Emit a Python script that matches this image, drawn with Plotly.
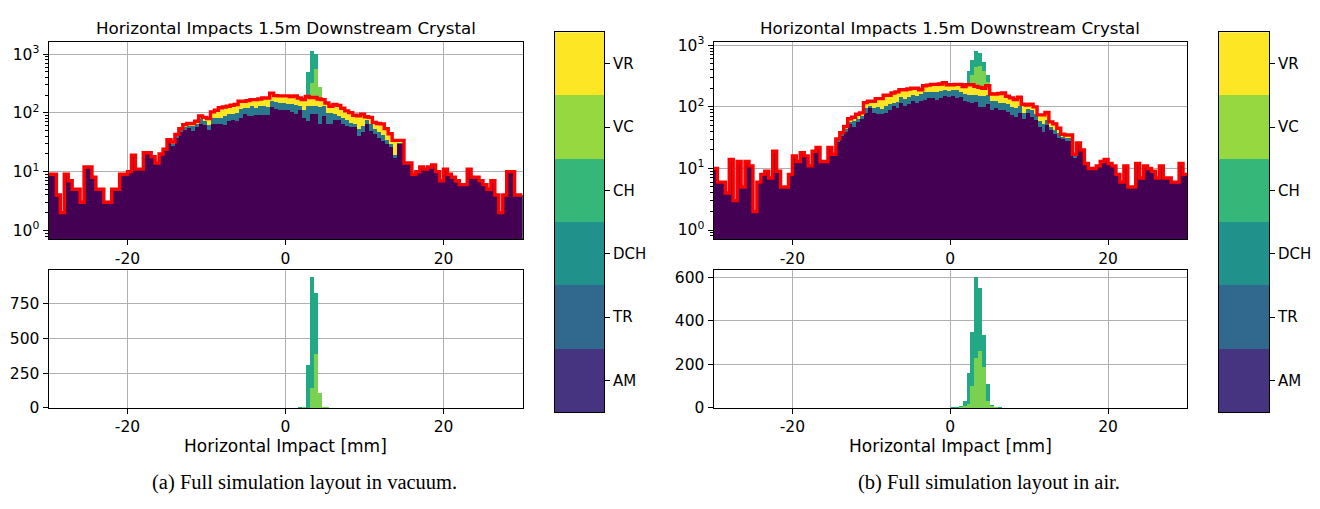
import plotly.graph_objects as go
import numpy as np

# ---------------- data ----------------
bin_edges = [-30 + 0.5 * i for i in range(121)]
categories = ["AM", "TR", "DCH", "CH", "VC", "VR"]

# (a) vacuum
left_am = [9, 9, 4, 2, 9, 7, 5, 5, 3, 12, 12, 8, 5, 5, 3, 3, 5, 5, 9, 9, 10, 19, 11, 11, 21, 21, 18, 14, 20, 24,
           33, 28, 38, 48, 52, 55, 50, 58, 65, 62, 52, 66, 66, 66, 63, 72, 76, 72, 83, 95,
           89, 89, 91, 91, 91, 91, 126, 115, 111, 111, 111, 105, 98, 111, 83, 74, 95, 95, 66, 89,
           66, 66, 76, 76, 66, 61, 57, 57, 40, 47, 65, 50, 44, 38, 34, 30, 26, 17, 30, 30,
           14, 14, 9, 10, 12, 11, 12, 13, 10, 7, 11, 9, 8, 7, 6, 6, 11, 8, 8, 7, 6, 5, 7, 4, 2, 4, 10, 10, 4, 4]
left_dch = [0] * 30 + [1, 2, 2, 3, 6, 6, 10, 8, 13, 12, 10, 15, 15, 17, 26, 23, 19, 29, 32, 25,
                       31, 41, 29, 39, 39, 35, 32, 40, 36, 36, 31, 37, 41, 19, 28, 59, 38, 38, 60, 41,
                       35, 35, 19, 13, 17, 15, 12, 9, 14, 14, 11, 15, 10, 9, 8, 5, 4, 2, 1, 1] + [0] * 30
left_vr = [0] * 30 + [1, 2, 3, 3, 5, 5, 6, 6, 11, 10, 18, 23, 30, 39, 37, 35, 40, 38, 43, 38,
                      42, 38, 48, 42, 49, 53, 59, 42, 48, 48, 53, 48, 56, 49, 57, 57, 50, 50, 46, 38,
                      46, 29, 44, 45, 37, 32, 32, 25, 35, 34, 10, 19, 15, 19, 23, 19, 14, 15, 3, 3] + [0] * 30
left_vc = [0] * 64 + [2, 0, 145, 390, 110, 8, 3] + [0] * 49
left_ch = [0] * 63 + [3, 8, 310, 795, 440, 0, 3] + [0] * 50

# (b) air
right_am = [10, 6, 6, 4, 14, 3, 13, 5, 13, 11, 2, 6, 8, 9, 7, 19, 9, 5, 5, 8, 16, 13, 18, 16, 11, 19, 22, 13, 13, 22, 17,
            27, 34, 40, 53, 47, 57, 64, 81, 95,
            80, 76, 78, 80, 90, 103, 95, 117, 104, 110,
            123, 118, 127, 132, 138, 140, 132, 140, 149, 145,
            149, 140, 145, 123, 120, 117, 120, 100, 100, 113,
            88, 95, 88, 88, 84, 75, 68, 80, 64, 81,
            70, 62, 48, 40, 52, 42, 36, 32, 30, 28,
            28, 15, 26, 20,
            12, 10, 10, 11, 13, 14, 12, 11, 8, 6, 11, 5, 5, 12, 7, 11, 10, 9, 7, 11, 7, 7, 6, 6, 12, 8]
right_dch = [0] * 31 + [2, 2, 4, 4, 12, 7, 8, 14, 9,
                        18, 24, 14, 25, 20, 15, 27, 26, 31, 35,
                        36, 34, 35, 43, 40, 38, 46, 45, 41, 40,
                        41, 48, 33, 39, 39, 42, 39, 49, 49, 46,
                        35, 30, 29, 29, 29, 25, 27, 25, 17, 11,
                        18, 16, 12, 13, 10, 6, 7, 6, 3, 3, 3, 1] + [0] * 28
right_vr = [0] * 31 + [1, 2, 4, 7, 9, 12, 8, 22, 19,
                       25, 36, 44, 49, 44, 50, 53, 47, 55, 50,
                       41, 48, 28, 45, 47, 54, 54, 50, 57, 43,
                       38, 44, 54, 52, 69, 69, 56, 58, 51, 61,
                       39, 37, 48, 51, 36, 40, 37, 38, 29, 15,
                       22, 22, 14, 21, 19, 9, 10, 7, 3, 4, 4, 1] + [0] * 28
right_vc = [0] * 62 + [2, 10, 20, 100, 230, 265, 190, 32, 12, 3] + [0] * 48
right_ch = [0] * 59 + [1, 2, 3, 8, 25, 140, 250, 375, 290, 145, 78, 3, 2, 2, 1, 1] + [0] * 45

# ---------------- style ----------------
hist_colors = {"AM": "#440154", "TR": "#414487", "DCH": "#2a788e", "CH": "#22a884", "VC": "#7ad151", "VR": "#fde725"}
cbar_colors = ["#463480", "#31688e", "#21918c", "#35b779", "#95d840", "#fde725"]
FONT = "DejaVu Sans"
W, H = 1320, 509
GRID = "#b0b0b0"

def px(x):
    return x / W

def py(y):
    return 1 - y / H

edges = np.array(bin_edges)
centers = (edges[:-1] + edges[1:]) / 2
widths = edges[1:] - edges[:-1]

fig = go.Figure()

def add_panel(am, dch, vr, vc, ch, xa_top, ya_top, xa_bot, ya_bot):
    am = np.array(am, float); dch = np.array(dch, float); vr = np.array(vr, float)
    vc = np.array(vc, float); ch = np.array(ch, float)
    c1 = am
    c2 = c1 + dch
    c3 = c2 + vr
    c4 = c3 + vc
    c5 = c4 + ch
    for vals, key in [(c5, "CH"), (c4, "VC"), (c3, "VR"), (c2, "DCH"), (c1, "AM")]:
        fig.add_trace(go.Bar(x=centers, y=vals, width=widths, marker_color=hist_colors[key],
                             marker_line_width=0, xaxis=xa_top, yaxis=ya_top, showlegend=False))
    fig.add_trace(go.Scatter(x=list(edges), y=list(c3) + [c3[-1]], mode="lines", line_shape="hv",
                             line=dict(color="#ff0000", width=3.4), xaxis=xa_top, yaxis=ya_top,
                             showlegend=False))
    fig.add_trace(go.Bar(x=centers, y=vc + ch, width=widths, marker_color=hist_colors["CH"],
                         marker_line_width=0, xaxis=xa_bot, yaxis=ya_bot, showlegend=False))
    fig.add_trace(go.Bar(x=centers, y=vc, width=widths, marker_color=hist_colors["VC"],
                         marker_line_width=0, xaxis=xa_bot, yaxis=ya_bot, showlegend=False))

add_panel(left_am, left_dch, left_vr, left_vc, left_ch, "x", "y", "x2", "y2")
add_panel(right_am, right_dch, right_vr, right_vc, right_ch, "x4", "y4", "x5", "y5")

cscale = [[i / 5, c] for i, c in enumerate(cbar_colors)]
for xa, ya in [("x3", "y3"), ("x6", "y6")]:
    fig.add_trace(go.Heatmap(z=[[i] for i in range(6)], x=[0], y=categories, colorscale=cscale,
                             zmin=0, zmax=5, showscale=False, xaxis=xa, yaxis=ya, hoverinfo="skip"))

tickfont = dict(family=FONT, size=15.5, color="black")
common_x = dict(range=[-30, 30], tickvals=[-20, 0, 20], ticktext=["-20", "0", "20"], showgrid=True,
                gridcolor=GRID, gridwidth=1, ticks="outside", ticklen=5, tickcolor="black",
                showline=True, mirror=True, linecolor="black", linewidth=1, zeroline=False,
                tickfont=tickfont)
common_y = dict(showgrid=True, gridcolor=GRID, gridwidth=1, ticks="outside", ticklen=5, tickcolor="black",
                showline=True, mirror=True, linecolor="black", linewidth=1, zeroline=False, tickfont=tickfont)
minor_vals = [m * 10 ** e for e in range(-1, 4) for m in range(2, 10)]
log_ticktext = ["10<sup>0</sup>", "10<sup>1</sup>", "10<sup>2</sup>", "10<sup>3</sup>"]

Ltop = [py(239), py(35)]
Lbot = [py(413.7), py(270.7)]
Lx = [px(48.5), px(522.5)]
Rx = [px(713.5), px(1187)]
cbL = [px(555), px(604)]
cbR = [px(1219), px(1269)]
cby = [py(418), py(25)]

def log_y(rng, anchor):
    return dict(common_y, type="log", range=rng, tickvals=[1, 10, 100, 1000], ticktext=log_ticktext,
                anchor=anchor, minor=dict(tickvals=minor_vals, ticks="outside", ticklen=3,
                                          tickcolor="black", showgrid=False))

cb_tickfont = dict(family=FONT, size=15, color="black")
fig.update_layout(
    width=W, height=H, margin=dict(l=0, r=0, t=0, b=0), paper_bgcolor="white", plot_bgcolor="white",
    barmode="overlay", bargap=0, font=dict(family=FONT, color="black"),
    xaxis=dict(common_x, domain=Lx, anchor="y"),
    yaxis=log_y([-0.148, 3.21], "x") | dict(domain=Ltop),
    xaxis2=dict(common_x, domain=Lx, anchor="y2"),
    yaxis2=dict(common_y, domain=Lbot, anchor="x2", range=[0, 993], tickvals=[0, 250, 500, 750]),
    xaxis3=dict(domain=cbL, anchor="y3", showticklabels=False, ticks="", showgrid=False, zeroline=False,
                showline=True, mirror=True, linecolor="black", linewidth=1),
    yaxis3=dict(domain=cby, anchor="x3", side="right", ticks="outside", ticklen=5, tickcolor="black",
                showgrid=False, zeroline=False, showline=True, mirror=True, linecolor="black",
                linewidth=1, tickfont=cb_tickfont, type="category"),
    xaxis4=dict(common_x, domain=Rx, anchor="y4"),
    yaxis4=log_y([-0.146, 3.056], "x4") | dict(domain=Ltop),
    xaxis5=dict(common_x, domain=Rx, anchor="y5"),
    yaxis5=dict(common_y, domain=Lbot, anchor="x5", range=[0, 636], tickvals=[0, 200, 400, 600]),
    xaxis6=dict(domain=cbR, anchor="y6", showticklabels=False, ticks="", showgrid=False, zeroline=False,
                showline=True, mirror=True, linecolor="black", linewidth=1),
    yaxis6=dict(domain=cby, anchor="x6", side="right", ticks="outside", ticklen=5, tickcolor="black",
                showgrid=False, zeroline=False, showline=True, mirror=True, linecolor="black",
                linewidth=1, tickfont=cb_tickfont, type="category"),
)

title = "Horizontal Impacts 1.5m Downstream Crystal"
ann = []
for xd in (Lx, Rx):
    xc = (xd[0] + xd[1]) / 2
    ann.append(dict(text=title, x=xc, y=py(21), xref="paper", yref="paper", showarrow=False,
                    xanchor="center", yanchor="middle", font=dict(family=FONT, size=16.7, color="black")))
    ann.append(dict(text="Horizontal Impact [mm]", x=xc, y=py(453), xref="paper", yref="paper",
                    showarrow=False, xanchor="center", yanchor="middle",
                    font=dict(family=FONT, size=17, color="black")))
ann.append(dict(text="(a) Full simulation layout in vacuum.", x=px(304), y=py(491), xref="paper", yref="paper",
                showarrow=False, xanchor="center", yanchor="middle",
                font=dict(family="Liberation Serif", size=20.5, color="black")))
ann.append(dict(text="(b) Full simulation layout in air.", x=px(989), y=py(491), xref="paper", yref="paper",
                showarrow=False, xanchor="center", yanchor="middle",
                font=dict(family="Liberation Serif", size=20.5, color="black")))
fig.update_layout(annotations=ann)

fig.write_html("out.html")
